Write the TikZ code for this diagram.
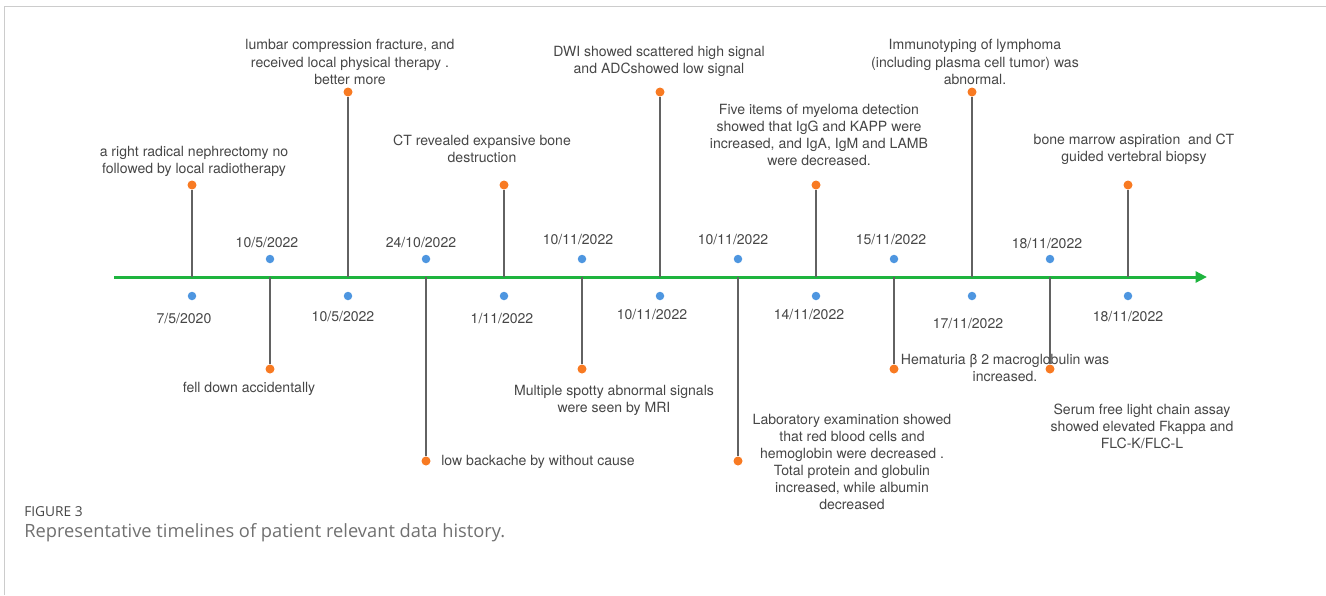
\documentclass[tikz,border=0pt]{standalone}
\usepackage{fontspec}
\setmainfont{TeX Gyre Heros}
\newfontfamily\capfont{Open Sans}
\usepackage{tikz}
\usetikzlibrary{arrows.meta}

\definecolor{axisgreen}{RGB}{30,180,62}
\definecolor{datedot}{RGB}{78,150,224}
\definecolor{eventdot}{RGB}{248,122,34}
\definecolor{stemgray}{RGB}{98,98,98}
\definecolor{labelgray}{RGB}{70,70,70}
\definecolor{framegray}{RGB}{204,204,204}
\definecolor{capgray}{RGB}{112,112,112}

\begin{document}
\begin{tikzpicture}[x=0.2mm, y=-0.2mm,
		datept/.style={circle, fill=datedot, inner sep=0pt, minimum size=1.7mm},
		eventpt/.style={circle, fill=eventdot, inner sep=0pt, minimum size=1.8mm},
		stem/.style={line width=0.4mm, stemgray},
		datelbl/.style={text=labelgray, font=\fontsize{8}{9.7}\selectfont, inner sep=0pt},
		eventlbl/.style={text=labelgray, font=\fontsize{8}{9.7}\selectfont, align=center, inner sep=0pt}]
			%%%%% START %%%%%
			
			\useasboundingbox (0,0) rectangle (1326,595);
			\draw[framegray, line width=0.3mm] (4.5,595) |- (1326,6.5);
			
			% time axis
			\coordinate (tlstart) at (114,277);
			\coordinate (tlend) at (1207,277);
			\draw[axisgreen, line width=0.6mm, -{Triangle[length=2.3mm,width=2.2mm]}] (tlstart) -- (tlend);
			
			\coordinate (a1) at (192,277);
			\coordinate (a2) at (270,277);
			\coordinate (a3) at (348,277);
			\coordinate (a4) at (426,277);
			\coordinate (a5) at (504,277);
			\coordinate (a6) at (582,277);
			\coordinate (a7) at (660,277);
			\coordinate (a8) at (738,277);
			\coordinate (a9) at (816,277);
			\coordinate (a10) at (894,277);
			\coordinate (a11) at (972,277);
			\coordinate (a12) at (1050,277);
			\coordinate (a13) at (1128,277);
			
			% event dots
			\node[eventpt] (e1) at (192,185) {};
			\node[eventpt] (e2) at (270,369) {};
			\node[eventpt] (e3) at (348,92) {};
			\node[eventpt] (e4) at (426,461) {};
			\node[eventpt] (e5) at (504,185) {};
			\node[eventpt] (e6) at (582,369) {};
			\node[eventpt] (e7) at (660,92) {};
			\node[eventpt] (e8) at (738,461) {};
			\node[eventpt] (e9) at (816,185) {};
			\node[eventpt] (e10) at (894,369) {};
			\node[eventpt] (e11) at (972,92) {};
			\node[eventpt] (e12) at (1050,369) {};
			\node[eventpt] (e13) at (1128,185) {};
			
			\draw[stem] (a1) -- (e1);
			\draw[stem] (a2) -- (e2);
			\draw[stem] (a3) -- (e3);
			\draw[stem] (a4) -- (e4);
			\draw[stem] (a5) -- (e5);
			\draw[stem] (a6) -- (e6);
			\draw[stem] (a7) -- (e7);
			\draw[stem] (a8) -- (e8);
			\draw[stem] (a9) -- (e9);
			\draw[stem] (a10) -- (e10);
			\draw[stem] (a11) -- (e11);
			\draw[stem] (a12) -- (e12);
			\draw[stem] (a13) -- (e13);
			
			% date dots
			\node[datept] (d1) at (192,296) {};
			\node[datept] (d2) at (270,259) {};
			\node[datept] (d3) at (348,296) {};
			\node[datept] (d4) at (426,259) {};
			\node[datept] (d5) at (504,296) {};
			\node[datept] (d6) at (582,259) {};
			\node[datept] (d7) at (660,296) {};
			\node[datept] (d8) at (738,259) {};
			\node[datept] (d9) at (816,296) {};
			\node[datept] (d10) at (894,259) {};
			\node[datept] (d11) at (972,296) {};
			\node[datept] (d12) at (1050,259) {};
			\node[datept] (d13) at (1128,296) {};
			
			\node[datelbl] (t1) at (184,319) {7/5/2020};
			\node[datelbl] (t2) at (267,243) {10/5/2022};
			\node[datelbl] (t3) at (343,317) {10/5/2022};
			\node[datelbl] (t4) at (421,243) {24/10/2022};
			\node[datelbl] (t5) at (502,319) {1/11/2022};
			\node[datelbl] (t6) at (578,240) {10/11/2022};
			\node[datelbl] (t7) at (652,315) {10/11/2022};
			\node[datelbl] (t8) at (733,240) {10/11/2022};
			\node[datelbl] (t9) at (809,315) {14/11/2022};
			\node[datelbl] (t10) at (891,240) {15/11/2022};
			\node[datelbl] (t11) at (968,324) {17/11/2022};
			\node[datelbl] (t12) at (1047,244) {18/11/2022};
			\node[datelbl] (t13) at (1128,317) {18/11/2022};
			
			% what happened
			\node[eventlbl] (l1) at (194,161) {a right radical nephrectomy no\\followed by local radiotherapy};
			\node[eventlbl] (l2) at (249,389) {fell down accidentally};
			\node[eventlbl] (l3) at (350,62) {lumbar compression fracture, and\\received local physical therapy .\\better more};
			\node[eventlbl, anchor=west] (l4) at (441,462) {low backache by without cause};
			\node[eventlbl] (l5) at (482,149) {CT revealed expansive bone\\destruction};
			\node[eventlbl] (l6) at (614,400) {Multiple spotty abnormal signals\\were seen by MRI};
			\node[eventlbl] (l7) at (659,61) {DWI showed scattered high signal\\and ADCshowed low signal};
			\node[eventlbl] (l8) at (852,462) {Laboratory examination showed\\that red blood cells and\\hemoglobin were decreased .\\Total protein and globulin\\increased, while albumin\\decreased};
			\node[eventlbl] (l9) at (819,135) {Five items of myeloma detection\\showed that IgG and KAPP were\\increased, and IgA, IgM and LAMB\\were decreased.};
			\node[eventlbl] (l10) at (1005,368) {Hematuria β 2 macroglobulin was\\increased.};
			\node[eventlbl] (l11) at (975,62) {Immunotyping of lymphoma\\(including plasma cell tumor) was\\abnormal.};
			\node[eventlbl] (l12) at (1142,426) {Serum free light chain assay\\showed elevated Fkappa and\\FLC-K/FLC-L};
			\node[eventlbl] (l13) at (1134,149) {bone marrow aspiration\ \ and CT\\guided vertebral biopsy};
			
			% caption
			\node[anchor=west, inner sep=0pt, text=labelgray, font=\capfont\fontsize{7.8}{9}\selectfont] (fig) at (24,512) {FIGURE 3};
			\node[anchor=west, inner sep=0pt, text=capgray, font=\capfont\fontsize{10.4}{12}\selectfont] (cap) at (24,533) {Representative timelines of patient relevant data history.};
			
			%%%%% END %%%%%
		\end{tikzpicture}
\end{document}
